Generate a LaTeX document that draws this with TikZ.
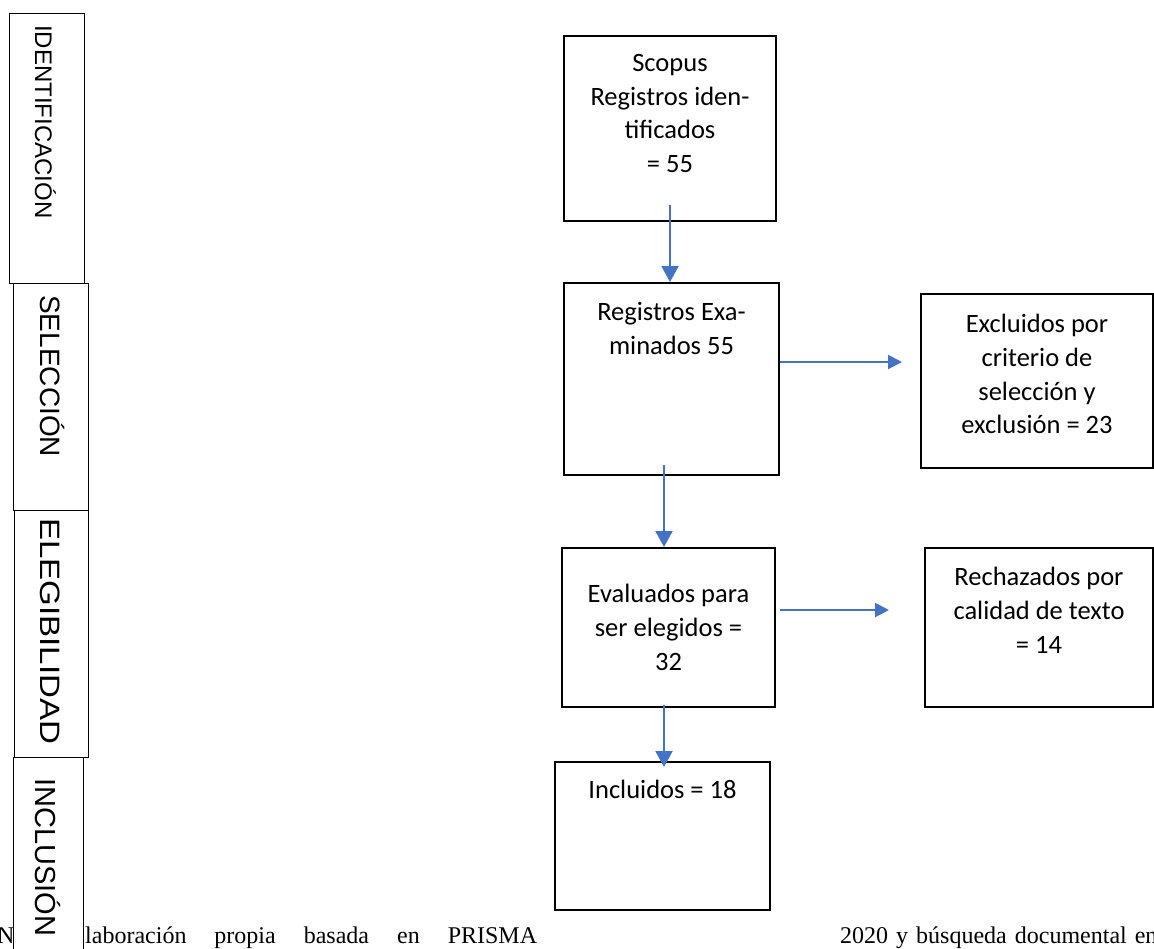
\documentclass[tikz,border=0pt]{standalone}
\usepackage{fontspec}
\usepackage{graphicx}
\usetikzlibrary{positioning,arrows.meta}
\newfontfamily\boxfont{Carlito}
\newfontfamily\stagefont{Liberation Sans}
\newfontfamily\capfont{Liberation Serif}
\definecolor{flowblue}{RGB}{68,114,196}
\tikzset{
	box/.style={draw=black, line width=2pt, fill=white, anchor=north west, inner sep=0pt},
	stagebox/.style={draw=black, line width=1.2pt, fill=white, anchor=north west, inner sep=0pt},
	stagelabel/.style={rotate=-90, anchor=base west, inner sep=0pt},
	boxtext/.style={font=\boxfont\fontsize{26.5}{33.7}\selectfont, align=center, inner sep=0pt},
	caption/.style={font=\capfont\fontsize{24}{28}\selectfont, anchor=base west, inner sep=0pt},
	flow/.style={draw=flowblue, line width=2pt, -{Triangle[width=17pt,length=16pt]}},
	sideflow/.style={draw=flowblue, line width=2pt, -{Triangle[width=14pt,length=14pt]}}
}
\begin{document}
\begin{tikzpicture}[x=1pt, y=-1pt]
		\useasboundingbox (0,0) rectangle (1154,948);
		\clip (0,0) rectangle (1154,948);
		% Note below the figure
		\node[caption] (capn) at (-3,943) {N};
		\node[caption] (capa) at (85,943) {\spaceskip=28pt laboración propia basada en PRISMA};
		\node[caption] (capb) at (840,943) {\spaceskip=8pt 2020 y búsqueda documental en};
		% Stages
		\node[stagebox, minimum width=75pt, minimum height=270pt] (ident) at (9,13) {};
		\node[stagebox, minimum width=75pt, minimum height=227pt] (selec) at (13,283) {};
		\node[stagebox, minimum width=74pt, minimum height=247pt] (eleg) at (14,510) {};
		\node[stagebox, minimum width=70pt, minimum height=220pt] (incl) at (13,757) {};
		\node[stagelabel, font=\stagefont\fontsize{24}{28}\selectfont] (ident-lbl) at ([xshift=26pt,yshift=-12pt]ident.north west) {IDENTIFICACIÓN};
		\node[stagelabel, font=\stagefont\fontsize{28}{32}\selectfont] (selec-lbl) at ([xshift=27pt,yshift=-12pt]selec.north west) {SELECCIÓN};
		\node[stagelabel, font=\stagefont\fontsize{28}{32}\selectfont] (eleg-lbl) at ([xshift=26pt,yshift=-8pt]eleg.north west) {\scalebox{1.18}[1]{ELEGIBILIDAD}};
		\node[stagelabel, font=\stagefont\fontsize{29}{32}\selectfont] (incl-lbl) at ([xshift=22pt,yshift=-21pt]incl.north west) {INCLUSIÓN};
		% Flow boxes
		\node[box, minimum width=212pt, minimum height=185pt] (scopus) at (563,35) {};
		\node[box, minimum width=215pt, minimum height=192pt] (examinados) at (563,282) {};
		\node[box, minimum width=232pt, minimum height=174pt] (excluidos) at (920,293) {};
		\node[box, minimum width=213pt, minimum height=159pt] (evaluados) at (561,547) {};
		\node[box, minimum width=228pt, minimum height=159pt] (rechazados) at (924,547) {};
		\node[box, minimum width=215pt, minimum height=148pt] (incluidos) at (554,761) {};
		\node[boxtext, below=19pt of scopus.north] (scopus-txt) {Scopus\\Registros iden-\\tificados\\= 55};
		\node[boxtext, below=20pt of examinados.north] (examinados-txt) {Registros Exa-\\minados 55};
		\node[boxtext, below=21pt of excluidos.north] (excluidos-txt) {Excluidos por\\criterio de\\selección y\\exclusión = 23};
		\node[boxtext, below=37pt of evaluados.north] (evaluados-txt) {Evaluados para\\ser elegidos =\\32};
		\node[boxtext, below=20pt of rechazados.north] (rechazados-txt) {Rechazados por\\calidad de texto\\= 14};
		\node[boxtext, below=19pt of incluidos.north] (incluidos-txt) {Incluidos = 18};
		% Arrows
		\coordinate (excl-tip) at ([xshift=-18pt]excluidos.west);
		\coordinate (rech-tip) at ([xshift=-35pt]rechazados.west);
		\draw[flow] ([yshift=17pt]scopus.south) -- (scopus.south |- examinados.north);
		\draw[flow] ([xshift=-7.5pt,yshift=11pt]examinados.south) -- ([xshift=-7.5pt]examinados.south |- evaluados.north);
		\draw[sideflow] ([yshift=17pt]examinados.east) -- ([yshift=17pt]examinados.east -| excl-tip);
		\draw[sideflow] ([xshift=4pt,yshift=17.5pt]evaluados.east) -- ([yshift=17.5pt]evaluados.east -| rech-tip);
		\draw[flow] ([xshift=-4.5pt,yshift=3pt]evaluados.south) -- ([xshift=-4.5pt,yshift=-6pt]evaluados.south |- incluidos.north);
\end{tikzpicture}
\end{document}
